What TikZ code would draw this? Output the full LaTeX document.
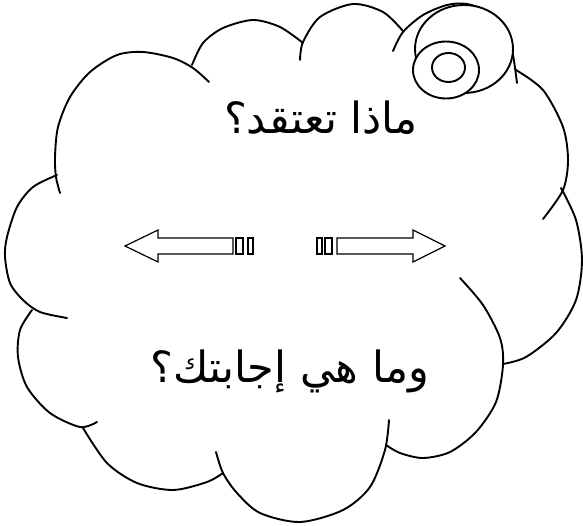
\documentclass[tikz,border=0pt]{standalone}
\usepackage{fontspec}
\newfontfamily\arabicfont[Script=Arabic]{DejaVu Sans}
\TeXXeTstate=1
\tikzset{
  lobe/.style={line width=1.9pt, line cap=round},
  bubble/.style={line width=1.9pt, fill=white},
  arrowshape/.style={line width=1.2pt, line join=miter, fill=white},
  label/.style={font=\arabicfont\fontsize{43}{50}\selectfont, inner sep=0pt}
}
\begin{document}
\begin{tikzpicture}[x=1pt,y=-1pt]
\useasboundingbox (0,0) rectangle (583,525);
% cloud lobes
\draw[lobe] plot[smooth] coordinates {(60,193) (56,177) (55,157) (58,127) (70,97) (90,72) (117,55) (143,52) (173,58) (193,68) (209,82)};
\draw[lobe] plot[smooth] coordinates {(192,65) (203,43) (223,28) (253,20) (280,27) (303,43)};
\draw[lobe] plot[smooth] coordinates {(300,60) (303,42) (320,17) (353,4) (383,12) (403,31)};
\draw[lobe] plot[smooth] coordinates {(393,51) (403,32) (423,15) (447,5) (467,4) (490,13) (507,33) (513,55) (517,83)};
\draw[lobe] plot[smooth] coordinates {(516,70) (543,90) (563,127) (568,160) (563,190) (543,219)};
\draw[lobe] plot[smooth] coordinates {(561,188) (576,220) (582,260) (576,300) (556,333) (526,357) (503,364)};
\draw[lobe] plot[smooth] coordinates {(460,278) (483,305) (500,338) (503,365) (496,402) (476,432) (450,452) (423,458) (400,453) (386,445)};
\draw[lobe] plot[smooth] coordinates {(389,420) (385,450) (370,487) (343,510) (300,522) (260,513) (237,493) (223,473) (216,452)};
\draw[lobe] plot[smooth] coordinates {(223,473) (207,482) (173,490) (137,483) (107,463) (83,428)};
\draw[lobe] plot[smooth] coordinates {(97,422) (80,427) (50,413) (27,387) (18,357) (20,330) (32,310)};
\draw[lobe] plot[smooth] coordinates {(57,175) (33,187) (17,207) (7,237) (5,257) (10,283) (23,300) (40,312) (67,318)};
% bubbles
\draw[bubble] (464,49) ellipse [x radius=49, y radius=44];
\draw[bubble] (446,70) ellipse [x radius=33, y radius=28.5];
\draw[bubble] (448.5,67.5) ellipse [x radius=16.5, y radius=14.5];
% left striped arrow
\draw[arrowshape] (125,246) -- (158,230) -- (158,238) -- (233,238) -- (233,254) -- (158,254) -- (158,262) -- cycle;
\draw[arrowshape] (236,238) rectangle (243,254);
\draw[arrowshape] (248,238) rectangle (253,254);
% right striped arrow
\draw[arrowshape] (317,238) rectangle (322,254);
\draw[arrowshape] (325,238) rectangle (332,254);
\draw[arrowshape] (337,238) -- (413,238) -- (413,230) -- (445,246) -- (413,262) -- (413,254) -- (337,254) -- cycle;
% texts
\node[label] (t1) at (321,118) {\beginR ماذا تعتقد؟\endR};
\node[label] (t2) at (290,371) {\beginR وما هي إجابتك؟\endR};
\end{tikzpicture}
\end{document}
